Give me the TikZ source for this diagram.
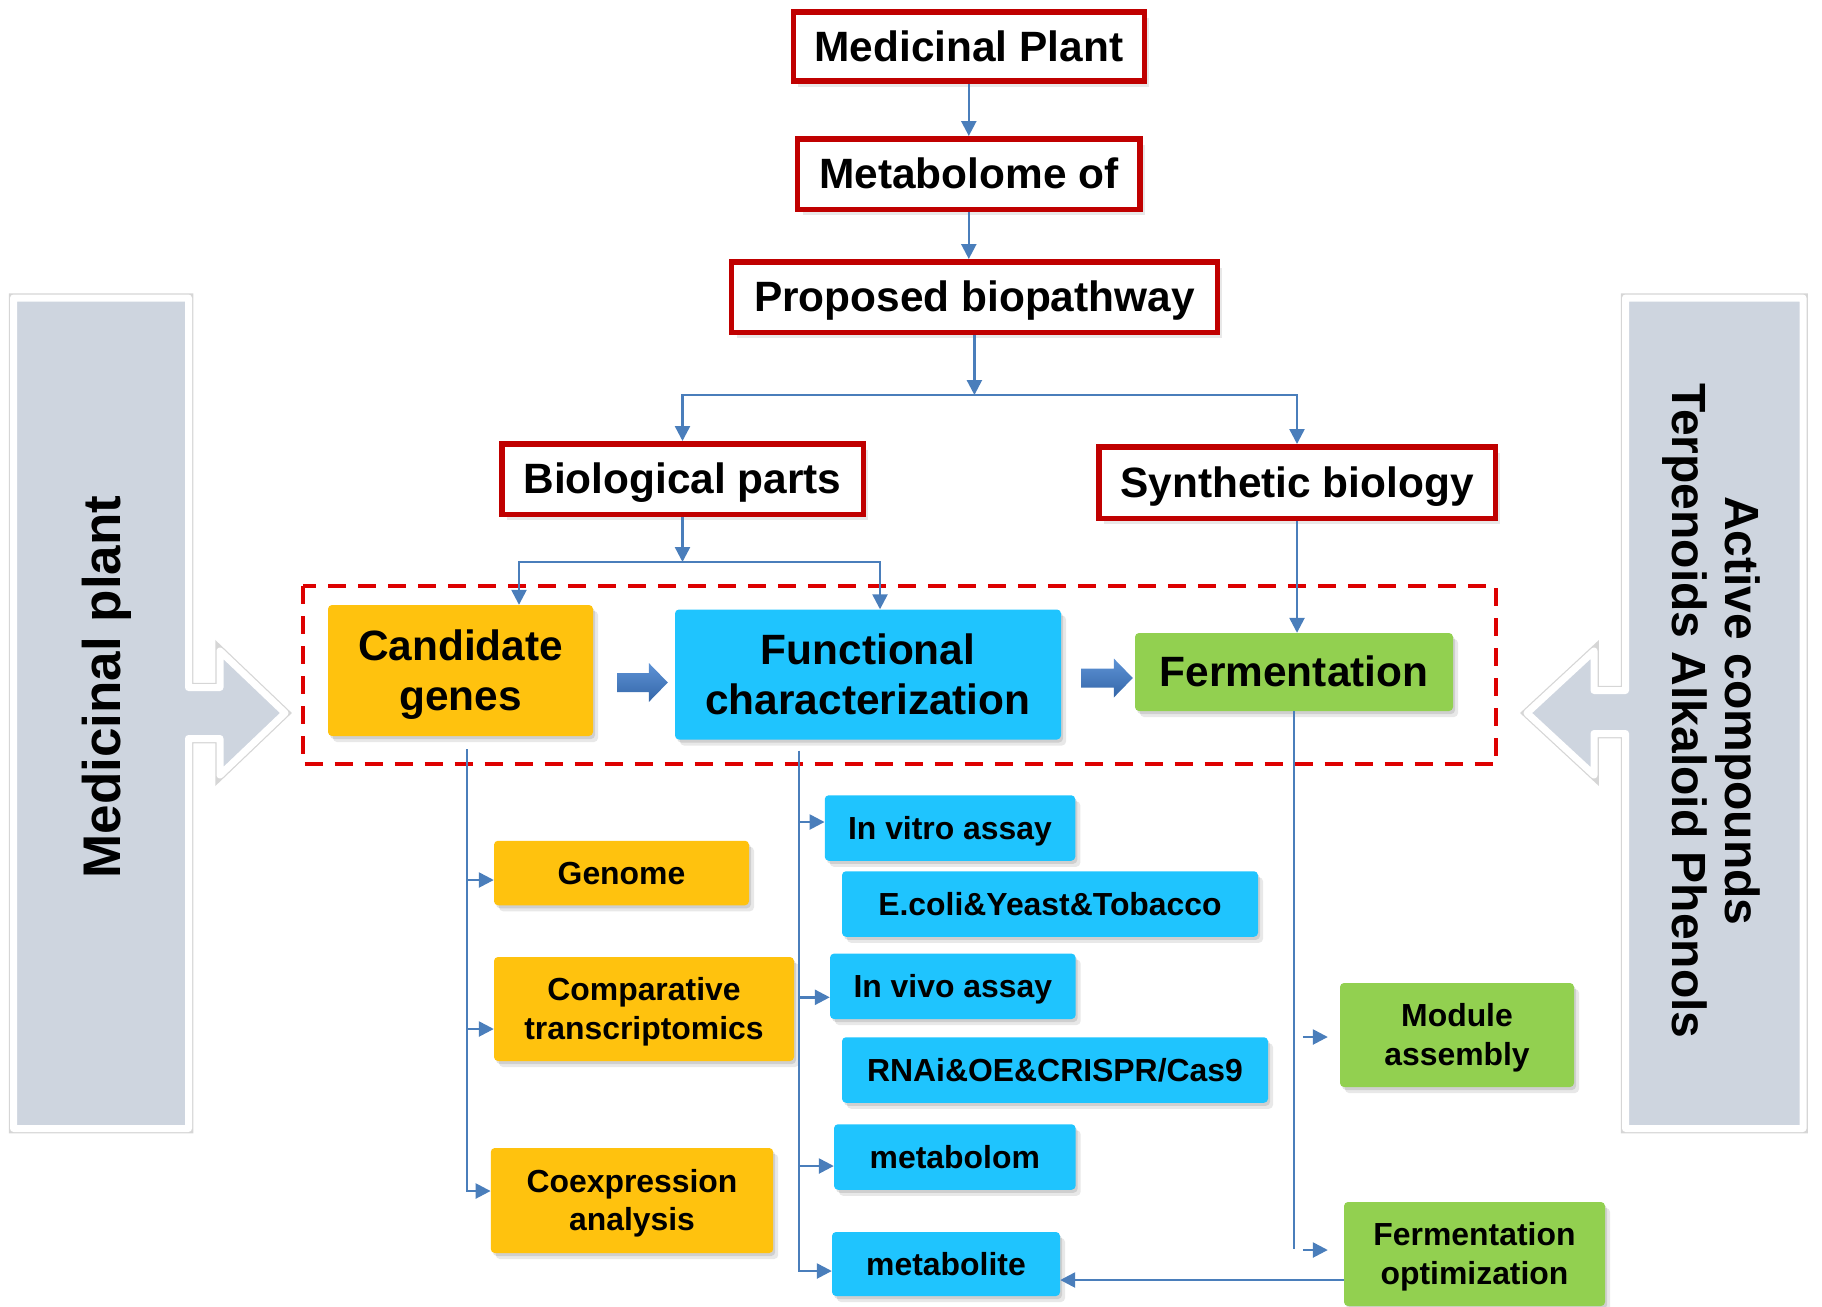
\documentclass[tikz,border=0pt]{standalone}
\usepackage{fontspec}
\setmainfont{Liberation Sans}
\usetikzlibrary{arrows.meta,shadows,calc}
\definecolor{redb}{HTML}{C00000}
\definecolor{dashred}{HTML}{DD0000}
\definecolor{lblue}{HTML}{4A7EBB}
\definecolor{orng}{HTML}{FFC20E}
\definecolor{cyanb}{HTML}{1FC4FE}
\definecolor{grn}{HTML}{92D050}
\definecolor{panelc}{HTML}{CED5DF}
\definecolor{blkT}{HTML}{5E93D6}
\definecolor{blkB}{HTML}{3466A8}
\newcommand\fontbig{\fontsize{42.4pt}{50pt}\selectfont\bfseries}
\newcommand\fontsml{\fontsize{31.9pt}{38.5pt}\selectfont\bfseries}
\newcommand\fontvl{\fontsize{53pt}{60pt}\selectfont\bfseries}
\newcommand\fontvr{\fontsize{48pt}{53pt}\selectfont\bfseries}
% struts giving PowerPoint-like line boxes (ascent 0.905em, descent 0.212em)
\newcommand\tstr{\rule{0pt}{0.905em}}
\newcommand\bstr{\rule[-0.212em]{0pt}{0.212em}}
\newcommand\blockarrow[2]{%
  \shade[top color=blkT, bottom color=blkB]
    ($(#1)+(0,-9.5)$) -- ($(#2)+(-19,-9.5)$) -- ($(#2)+(-19,-19.5)$) -- (#2)
    -- ($(#2)+(-19,19.5)$) -- ($(#2)+(-19,9.5)$) -- ($(#1)+(0,9.5)$) -- cycle;}
\begin{document}
\begin{tikzpicture}[x=1pt,y=-1pt,
  boxshadow/.style={drop shadow={shadow xshift=2pt,shadow yshift=-3pt,opacity=0.16,fill=black!70},
                    drop shadow={shadow xshift=5pt,shadow yshift=-6pt,opacity=0.13,fill=black!70}},
  redbox/.style={draw=redb, line width=5.5pt, fill=white, inner sep=0pt, font=\fontbig, boxshadow},
  colbox/.style={rounded corners=4pt, inner sep=0pt, align=center, boxshadow},
  bigbox/.style={colbox, font=\fontbig},
  smlbox/.style={colbox, font=\fontsml},
  conn/.style={draw=lblue, line width=2.5pt, -{Triangle[length=15pt,width=15pt]}},
  plain/.style={draw=lblue, line width=2.5pt},
  panelshape/.style={fill=panelc, draw=white, line width=7pt, line join=round,
     drop shadow={shadow xshift=3pt,shadow yshift=-3pt,opacity=0.18,fill=black!60},
     preaction={draw=black!16, line width=9.5pt}}
]
\useasboundingbox (0,0) rectangle (1822,1306);

% side panels
\filldraw[panelshape] (13.5,298) -- (188.5,298) -- (188.5,687.5) -- (220,687.5) -- (220,651)
  -- (285,713) -- (220,775) -- (220,738.5) -- (188.5,738.5) -- (188.5,1128.5) -- (13.5,1128.5) -- cycle;
\filldraw[panelshape] (1803,298) -- (1625.5,298) -- (1625.5,690.5) -- (1594,690.5) -- (1594,651)
  -- (1527,713) -- (1594,775) -- (1594,733.5) -- (1625.5,733.5) -- (1625.5,1128.5) -- (1803,1128.5) -- cycle;
\node[rotate=90, font=\fontvl, inner sep=0pt] (lp) at (102,687) {\tstr Medicinal plant\bstr};
\node[rotate=-90, align=center, font=\fontvr, inner sep=0pt] (rp) at (1716,711) {\tstr Active compounds\\Terpenoids Alkaloid Phenols\bstr};

% dashed frame
\draw[dashred, line width=4pt, dash pattern=on 18pt off 12pt] (302.5,586) rectangle (1496,764);

% red boxes
\node[redbox, minimum width=351pt, minimum height=69pt] (mp) at (968.8,46.7) {\tstr Medicinal Plant\bstr};
\node[redbox, minimum width=342.6pt, minimum height=70.5pt] (mo) at (968.8,174) {\tstr Metabolome of\bstr};
\node[redbox, minimum width=485.7pt, minimum height=70.5pt] (pb) at (974.4,297) {\tstr Proposed biopathway\bstr};
\node[redbox, minimum width=361.5pt, minimum height=70.5pt] (bp) at (682.5,479) {\tstr Biological parts\bstr};
\node[redbox, minimum width=396.5pt, minimum height=71.5pt] (sb) at (1297,482.5) {\tstr Synthetic biology\bstr};

% main coloured boxes
\node[bigbox, fill=orng, minimum width=265pt, minimum height=131pt] (cg) at (460.5,670.5) {\tstr Candidate\\genes\bstr};
\node[bigbox, fill=cyanb, minimum width=386pt, minimum height=130pt] (fc) at (868,674.5) {\tstr Functional\\characterization\bstr};
\node[bigbox, fill=grn, minimum width=318pt, minimum height=78pt] (fe) at (1294,672) {\tstr Fermentation\bstr};

% small boxes
\node[smlbox, fill=orng, minimum width=255pt, minimum height=64.5pt] (ge) at (621.5,873) {\tstr Genome\bstr};
\node[smlbox, fill=orng, minimum width=300pt, minimum height=104pt] (ct) at (644,1009) {\tstr Comparative\\transcriptomics\bstr};
\node[smlbox, fill=orng, minimum width=282.4pt, minimum height=105pt] (ce) at (632,1200.5) {\tstr Coexpression\\analysis\bstr};
\node[smlbox, fill=cyanb, minimum width=250.5pt, minimum height=65.5pt] (iv) at (950,828) {\tstr In vitro assay\bstr};
\node[smlbox, fill=cyanb, minimum width=416pt, minimum height=65.5pt] (ec) at (1050,904) {\tstr E.coli\&Yeast\&Tobacco\bstr};
\node[smlbox, fill=cyanb, minimum width=245.6pt, minimum height=65.4pt] (ivv) at (952.8,986.3) {\tstr In vivo assay\bstr};
\node[smlbox, fill=cyanb, minimum width=426pt, minimum height=65.5pt] (rn) at (1055,1070) {\tstr RNAi\&OE\&CRISPR/Cas9\bstr};
\node[smlbox, fill=cyanb, minimum width=241.6pt, minimum height=65.5pt] (mb) at (954.8,1157) {\tstr metabolom\bstr};
\node[smlbox, fill=cyanb, minimum width=228pt, minimum height=64pt] (mt) at (946,1264) {\tstr metabolite\bstr};
\node[smlbox, fill=grn, minimum width=234pt, minimum height=104pt] (ma) at (1457,1035) {\tstr Module\\assembly\bstr};
\node[smlbox, fill=grn, minimum width=261pt, minimum height=104pt] (fo) at (1474.5,1254) {\tstr Fermentation\\optimization\bstr};

% top connectors
\draw[conn] (mp.south) -- (mo.north);
\draw[conn] (mo.south) -- (mo.south |- pb.north);
\coordinate (j1) at (974.4,395);
\draw[conn] (pb.south) -- (j1);
\draw[conn] (j1) -| (bp.north);
\draw[conn] (j1) -| (sb.north);
\coordinate (j2) at (682.5,562);
\draw[conn] (bp.south) -- (j2);
\draw[conn] (j2) -| ([xshift=58.5pt]cg.north);
\draw[conn] (j2) -| ([xshift=12pt]fc.north);
\draw[conn] (sb.south) -- (sb.south |- fe.north);

% block arrows
\coordinate (ba1s) at ($(cg.east)+(24,12)$);
\coordinate (ba1e) at ($(fc.west)+(-7,8)$);
\coordinate (ba2s) at ($(fc.east)+(20,3.5)$);
\coordinate (ba2e) at ($(fe.west)+(-2,6)$);
\blockarrow{ba1s}{ba1e}
\blockarrow{ba2s}{ba2e}

% candidate genes branch
\coordinate (c0) at ([xshift=6.5pt,yshift=-13pt]cg.south);
\coordinate (gein) at ([yshift=-7pt]ge.west);
\coordinate (ctin) at ([yshift=-20pt]ct.west);
\coordinate (cein) at ([yshift=9.5pt]ce.west);
\draw[conn] (c0) |- (cein);
\draw[conn] (c0 |- gein) -- (gein);
\draw[conn] (c0 |- ctin) -- (ctin);

% functional characterization branch
\coordinate (f0) at ([xshift=-69pt,yshift=-11pt]fc.south);
\coordinate (ivin) at ([yshift=6pt]iv.west);
\coordinate (ivvin) at ([yshift=-11pt]ivv.west);
\coordinate (mbin) at ([yshift=-9pt]mb.west);
\coordinate (mtin) at ([yshift=-7pt]mt.west);
\draw[conn] (f0) |- (mtin);
\draw[conn] (f0 |- ivin) -- (ivin);
\draw[conn] (f0 |- ivvin) -- (ivvin);
\draw[conn] (f0 |- mbin) -- (mbin);

% fermentation branch
\coordinate (fend) at (fe.south |- 0,1249);
\draw[plain] (fe.south) -- (fend);
\draw[conn] ([xshift=-37pt,yshift=-2pt]ma.west) -- ([xshift=-12pt,yshift=-2pt]ma.west);
\draw[conn] ([xshift=-41pt,yshift=4pt]fo.west) -- ([xshift=-16pt,yshift=4pt]fo.west);
\draw[conn] ([yshift=-26pt]fo.west) -- ([yshift=-16pt]mt.east);
\end{tikzpicture}
\end{document}
